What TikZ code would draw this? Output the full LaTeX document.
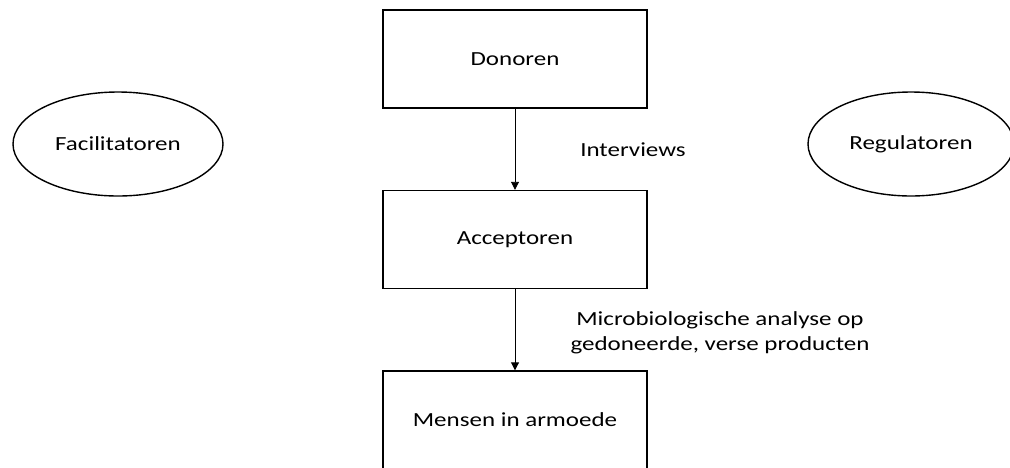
\documentclass[tikz,border=0pt]{standalone}
\usepackage{fontspec}
\setmainfont[FakeStretch=1.25]{Carlito}
\usetikzlibrary{arrows.meta}
\usetikzlibrary{shapes.geometric}

\tikzset{
    actor/.style={draw,line width=1.4pt,minimum width=264pt,minimum height=98pt,font=\fontsize{20}{24}\selectfont},
    party/.style={ellipse,draw,line width=1.4pt,minimum width=210pt,minimum height=104pt,font=\fontsize{20}{24}\selectfont},
    flow/.style={-{Triangle[width=8pt,length=8pt]},line width=0.9pt},
    flowtext/.style={font=\fontsize{20}{24.5}\selectfont,align=center}
}

\begin{document}
\begin{tikzpicture}[x=1pt,y=-1pt]
    
    % fix the frame of the picture
    \useasboundingbox (0,0) rectangle (1010,467);
    \clip (0,0) rectangle (1010,467);
    
    % the chain in the middle
    \node[actor] (donoren) at (515,59) {Donoren};
    \node[actor] (acceptoren) at (515,239.5) {Acceptoren};
    \node[actor] (armoede) at (515,420) {Mensen in armoede};
    
    % the parties on the sides
    \node[party] (facilitatoren) at (118,144) {Facilitatoren};
    \node[party,minimum width=206pt] (regulatoren) at (911,144) {Regulatoren};
    
    % arrows between the boxes
    \draw[flow] (donoren) -- (acceptoren);
    \draw[flow] (acceptoren) -- (armoede);
    
    % labels next to the arrows
    \node[flowtext] (interviews) at (633,150) {Interviews};
    \node[flowtext] (analyse) at (720,333) {Microbiologische analyse op\\gedoneerde, verse producten};
    
\end{tikzpicture}
\end{document}
